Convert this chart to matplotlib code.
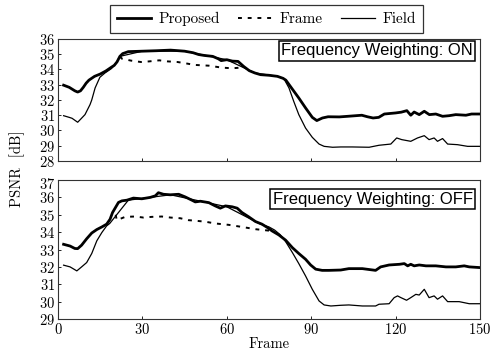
import matplotlib
matplotlib.use("Agg")
import matplotlib.pyplot as plt
from matplotlib.transforms import ScaledTranslation

plt.rcParams['font.family'] = ['cmr10', 'DejaVu Serif']
plt.rcParams['axes.formatter.use_mathtext'] = True
plt.rcParams['mathtext.fontset'] = 'cm'

# ---- top panel: frequency weighting ON ----
on_prop_f = [2, 4, 6, 7, 8, 9, 10, 11, 13, 15, 17, 19, 20, 21, 22, 23, 25, 30, 35, 40,
             45, 48, 50, 52, 55, 57, 58, 60, 62, 64, 66, 68, 70, 72, 75, 78, 80, 81,
             83, 85.6, 88, 90.4, 92, 94, 96, 100, 103, 108, 110, 112, 114, 116, 120,
             122, 124, 125.4, 126.6, 128.4, 130.2, 132, 134.3, 136.7, 139, 141.4, 145,
             147, 150]
on_prop_v = [32.97, 32.83, 32.6, 32.52, 32.6, 32.83, 33.1, 33.3, 33.55, 33.7, 33.9, 34.15,
             34.27, 34.5, 34.86, 35.04, 35.17, 35.2, 35.23, 35.27, 35.2, 35.1, 34.98,
             34.92, 34.86, 34.7, 34.58, 34.64, 34.55, 34.53, 34.2, 33.92, 33.77, 33.66,
             33.62, 33.55, 33.42, 33.3, 32.79, 32.13, 31.48, 30.86, 30.65, 30.82,
             30.9, 30.89, 30.93, 31.0, 30.9, 30.82, 30.86, 31.08, 31.15, 31.2, 31.3,
             31.0, 31.21, 31.04, 31.26, 31.04, 31.08, 30.93, 30.97, 31.04, 31.0, 31.08,
             31.08]

on_frame_f = [22, 22.7, 26, 29.5, 32.4, 36, 39, 42.5, 45.5, 48.5, 53.6, 58.3, 61.9, 64.9, 66.5]
on_frame_v = [34.86, 34.71, 34.58, 34.49, 34.53, 34.6, 34.53, 34.49, 34.4, 34.3, 34.25,
              34.12, 34.08, 34.12, 34.15]

on_field_f = [2, 4, 5, 7, 8, 9.6, 11.4, 12, 13.2, 14.9, 16.7, 19, 20.7, 22, 30, 45, 60,
              70, 78, 80.3, 82.1, 83.8, 85.6, 88, 90.4, 92.8, 94.6, 97.6, 100.5, 104.6,
              110.6, 114.1, 118.3, 120.4, 122.2, 125.4, 127.8, 130.2, 131.9, 133.7,
              134.9, 136.7, 138.5, 142, 145.6, 150]
on_field_v = [30.97, 30.86, 30.8, 30.54, 30.73, 31.04, 31.7, 32.0, 32.79, 33.49, 33.77,
              34.06, 34.43, 34.86, 35.2, 35.2, 34.64, 33.77, 33.55, 33.4, 32.79, 31.91,
              31.04, 30.16, 29.55, 29.11, 28.96, 28.9, 28.92, 28.92, 28.9, 29.03, 29.11,
              29.51, 29.4, 29.29, 29.51, 29.66, 29.4, 29.51, 29.29, 29.47, 29.11, 29.07,
              28.96, 28.96]

# ---- bottom panel: frequency weighting OFF ----
off_prop_f = [2, 4.3, 6, 7, 8.4, 10.2, 12, 13.8, 15.6, 17.3, 18.5, 19.4, 20.3, 21.5, 22.7,
              24.5, 26.8, 29.8, 32.8, 34.6, 35.7, 37.5, 39.9, 42.9, 45.2, 47.6, 48.8,
              50.6, 53.6, 55.9, 57.7, 59.5, 61.9, 63.7, 65.4, 67.8, 70.2, 72.5, 74.4,
              76.1, 78.5, 80.9, 83.3, 85.6, 88, 89.8, 91.6, 93.9, 96.3, 100.5, 103.4,
              108.2, 112.9, 114.7, 117.7, 121.4, 123.1, 124.3, 125.4, 126.6, 128.4,
              130.8, 134.3, 137.9, 141.4, 144.4, 146.2, 150]
off_prop_v = [33.3, 33.2, 33.06, 33.05, 33.25, 33.62, 33.95, 34.15, 34.3, 34.46, 34.74,
              35.13, 35.38, 35.71, 35.8, 35.84, 35.96, 35.92, 36.0, 36.09, 36.27, 36.18,
              36.15, 36.18, 36.03, 35.84, 35.74, 35.78, 35.7, 35.51, 35.38, 35.51,
              35.46, 35.38, 35.13, 34.88, 34.61, 34.46, 34.27, 34.07, 33.84, 33.54,
              33.11, 32.77, 32.44, 32.11, 31.87, 31.8, 31.8, 31.82, 31.9, 31.9, 31.8,
              32.0, 32.11, 32.15, 32.19, 32.06, 32.15, 32.06, 32.11, 32.06, 32.06, 32.0,
              32.0, 32.06, 32.0, 31.96]

off_frame_f = [20.5, 20.9, 23.9, 27.4, 30.4, 33.4, 36.9, 40, 43.5, 46.4, 49.4, 52.4, 55.9,
               60.7, 65.4, 70.2, 73.7, 76]
off_frame_v = [35.0, 34.69, 34.88, 34.9, 34.84, 34.88, 34.9, 34.84, 34.8, 34.69, 34.65,
               34.6, 34.5, 34.42, 34.3, 34.17, 34.11, 34.07]

off_field_f = [2, 4.3, 6.7, 8.4, 10.2, 12, 13.8, 15.6, 17.3, 18.4, 25, 40, 60, 72, 75,
               77, 79, 80.9, 83.3, 85.6, 88, 90.4, 92.8, 94.6, 97, 100.5, 103.4, 108.2,
               112.9, 114.1, 117.7, 119.5, 120.7, 121.9, 123.9, 125.4, 127.2, 128.4,
               130.2, 131.9, 133.7, 134.9, 136.7, 138.5, 142.6, 146.2, 150]
off_field_v = [32.1, 32.0, 31.77, 32.0, 32.25, 32.77, 33.5, 33.98, 34.36, 34.5, 35.84,
               36.15, 35.46, 34.46, 34.3, 34.12, 33.85, 33.46, 32.83, 32.19, 31.48, 30.71,
               30.04, 29.81, 29.75, 29.79, 29.81, 29.75, 29.75, 29.85, 29.88, 30.23,
               30.33, 30.23, 30.08, 30.23, 30.42, 30.38, 30.71, 30.23, 30.33, 30.14,
               30.33, 30.0, 30.0, 29.88, 29.88]

panels = [
    ("Frequency Weighting: ON", on_prop_f, on_prop_v, on_frame_f, on_frame_v,
     on_field_f, on_field_v, (28, 36), 0.967),
    ("Frequency Weighting: OFF", off_prop_f, off_prop_v, off_frame_f, off_frame_v,
     off_field_f, off_field_v, (29, 37), 0.915),
]

fig = plt.figure(figsize=(4.93, 3.56), dpi=100)
ax_top = fig.add_axes([0.1176, 0.5478, 0.856, 0.3427])
ax_bot = fig.add_axes([0.1176, 0.1039, 0.856, 0.3904])

handles = None
for ax, p in zip([ax_top, ax_bot], panels):
    title, pf, pv, ff, fv, df, dv, ylim, boxy = p
    l3, = ax.plot(df, dv, color='black', lw=0.9, label='Field')
    l2, = ax.plot(ff, fv, color='black', lw=1.4, linestyle=(0, (2, 3)), label='Frame')
    l1, = ax.plot(pf, pv, color='black', lw=2.0, label='Proposed')
    handles = [l1, l2, l3]
    ax.set_xlim(0, 150)
    ax.set_ylim(*ylim)
    ax.set_yticks(range(ylim[0], ylim[1] + 1))
    ax.set_xticks([0, 30, 60, 90, 120, 150])
    ax.tick_params(direction='in', length=2.5, width=0.6, labelsize=10.5, pad=2,
                   top=False, right=False)
    for s in ax.spines.values():
        s.set_linewidth(0.8)
        s.set_color('#333333')
    ax.text(0.983, boxy, title, transform=ax.transAxes, ha='right', va='top',
            fontsize=12, family=['Liberation Sans', 'DejaVu Sans'],
            bbox=dict(boxstyle='square,pad=0.15', facecolor='white',
                      edgecolor='black', linewidth=1.1))

ax_top.tick_params(labelbottom=False)
ax_bot.set_xlabel('Frame', fontsize=10.5, labelpad=0)

# nudge the top label of the lower panel a little down, as in the source
fig.canvas.draw()
blabs = ax_bot.get_yticklabels()
blabs[-1].set_transform(blabs[-1].get_transform() + ScaledTranslation(0, -2 / 72, fig.dpi_scale_trans))

fig.text(0.034, 0.525, 'PSNR  [dB]', rotation=90, ha='center', va='center', fontsize=10.5)

leg = fig.legend(handles=handles, loc='center', bbox_to_anchor=(0.5406, 0.9466), ncol=3,
                 fontsize=11, frameon=True, fancybox=False, handlelength=2.2,
                 columnspacing=1.2, borderpad=0.45, handletextpad=0.5)
leg.get_frame().set_edgecolor('black')
leg.get_frame().set_linewidth(0.9)

fig.savefig('out.png', dpi=100)
